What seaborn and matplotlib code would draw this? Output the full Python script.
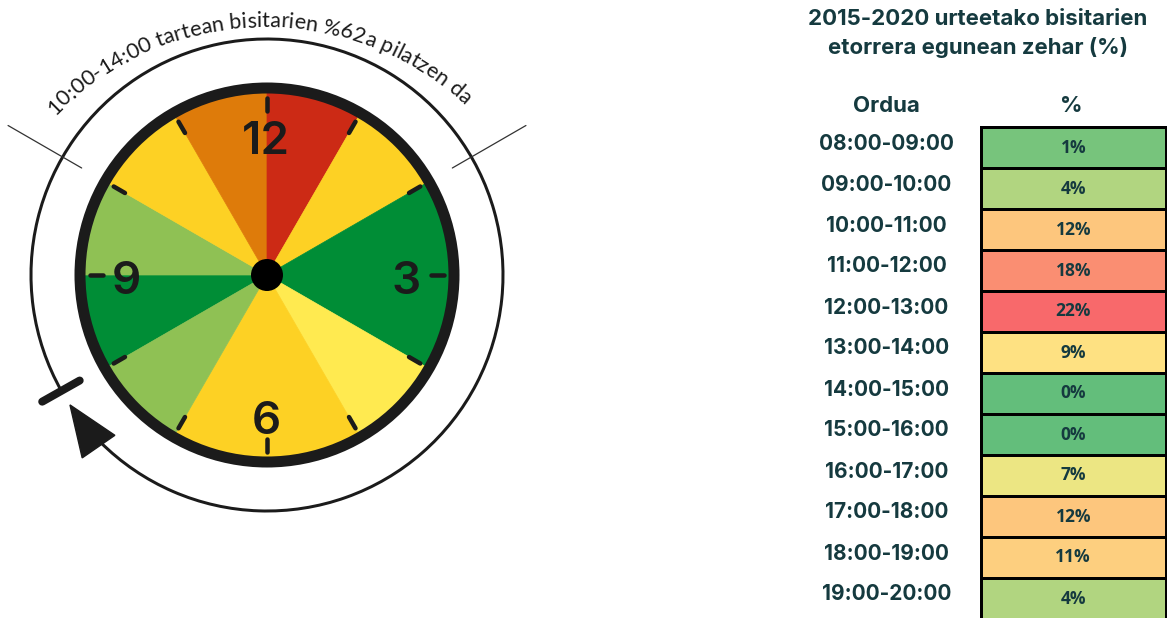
import numpy as np
import pandas as pd
import matplotlib
matplotlib.use('Agg')
import matplotlib.pyplot as plt
import seaborn as sns
from matplotlib.patches import Wedge, Circle, Arc, Polygon
from matplotlib.colors import LinearSegmentedColormap, TwoSlopeNorm
from matplotlib.font_manager import FontProperties, findfont, get_font
from matplotlib.transforms import ScaledTranslation

# --- data -------------------------------------------------------------
hours = ['08:00-09:00', '09:00-10:00', '10:00-11:00', '11:00-12:00',
         '12:00-13:00', '13:00-14:00', '14:00-15:00', '15:00-16:00',
         '16:00-17:00', '17:00-18:00', '18:00-19:00', '19:00-20:00']
start_hour = [8, 9, 10, 11, 12, 13, 14, 15, 16, 17, 18, 19]
visitors_pct = [1, 4, 12, 18, 22, 9, 0, 0, 7, 12, 11, 4]
clock_numbers = [12, 3, 6, 9]
peak_window = [10, 14]

title_lines = ['2015-2020 urteetako bisitarien', 'etorrera egunean zehar (%)']
arc_label = '10:00-14:00 tartean bisitarien %62a pilatzen da'
header_hour = 'Ordua'
header_pct = '%'

# clock face colour classes (upper bin edges in %)
clock_bins = [2, 5, 8, 15, 20]
clock_colors = ['#008D36', '#8FC154', '#FFEA50', '#FDD124', '#DE7B0A', '#CC2A15']

# excel style red-yellow-green scale for the table
table_cmap = LinearSegmentedColormap.from_list('ryg', ['#63BE7B', '#FFEB84', '#F8696B'])

INK = '#1b1b1b'
TEAL = '#153A3F'

sns.set_style('white')
plt.rcParams['font.family'] = ['Inter', 'DejaVu Sans']

W, H = 1167, 618
fig = plt.figure(figsize=(W / 100, H / 100), dpi=100)

# one axes in pixel units for the clock and free texts
ax = fig.add_axes([0, 0, 1, 1])
ax.set_xlim(0, W)
ax.set_ylim(0, H)
ax.axis('off')

cx, cy = 267, H - 275
PX = 0.72  # pixels -> points


def polar(r, deg, c=(cx, cy)):
    t = np.radians(deg)
    return c[0] + r * np.cos(t), c[1] + r * np.sin(t)


def clock_angle(h):
    return 90 - 30 * (h % 12)


# coloured hour wedges
for h, v in zip(start_hour, visitors_pct):
    col = clock_colors[np.digitize(v, clock_bins)]
    t1 = clock_angle(h + 1)
    ax.add_patch(Wedge((cx, cy), 183, t1, t1 + 30, fc=col, ec=col, lw=0.5, zorder=2))

# rim, hour marks, numbers and centre dot
ax.add_patch(Circle((cx, cy), 187, fill=False, ec=INK, lw=11 * PX, zorder=3))
for p in range(12):
    a = clock_angle(p)
    x0, y0 = polar(164, a)
    x1, y1 = polar(177, a)
    ax.plot([x0, x1], [y0, y1], color=INK, lw=4.5 * PX, solid_capstyle='round', zorder=4)
for n in clock_numbers:
    x, y = polar(140, clock_angle(n))
    ax.text(x - 1, y - 19, str(n), ha='center', va='baseline', fontsize=33, color=INK,
            fontweight='semibold', zorder=5)
ax.add_patch(Circle((cx, cy), 16, fc='black', ec='none', zorder=6))

# outer arrow running clockwise
ax.add_patch(Arc((cx, cy), 472, 472, theta1=-135, theta2=209.4, color=INK, lw=3 * PX))
ax.add_patch(Polygon([polar(236, 213.4), polar(221, 226.5), polar(260, 224.7)],
                     closed=True, fc=INK, ec=INK, lw=1))
x0, y0 = polar(215, 209.4)
x1, y1 = polar(258, 209.4)
ax.plot([x0, x1], [y0, y1], color=INK, lw=8 * PX, solid_capstyle='round')

# thin marks for the peak window
for h in peak_window:
    a = clock_angle(h)
    x0, y0 = polar(214, a)
    x1, y1 = polar(299, a)
    ax.plot([x0, x1], [y0, y1], color='#333333', lw=0.9)

# curved label along the top
fp = FontProperties(family='Lato', weight='normal')
font = get_font(findfont(fp))
font.set_size(100, 72)
adv = np.array([font.load_char(ord(c)).linearHoriAdvance / 65536 / 100 for c in arc_label])
tc = (265, H - 319)
tr = 292
a_start, a_end = 136, 47
arc_len = np.radians(a_start - a_end) * tr
fs_px = arc_len / adv.sum()
cum = np.concatenate([[0], np.cumsum(adv)[:-1]])
for ch, s0, w in zip(arc_label, cum, adv):
    s = (s0 + w / 2) * fs_px
    a = a_start - np.degrees(s / tr)
    x, y = polar(tr, a, tc)
    ax.text(x, y, ch, ha='center', va='baseline', rotation=a - 90,
            rotation_mode='anchor', fontproperties=fp, fontsize=fs_px * PX, color=INK)

# --- table ------------------------------------------------------------
for i, line in enumerate(title_lines):
    ax.text(978, H - 25 - 29 * i, line, ha='center', va='baseline', fontsize=16,
            fontweight='bold', color=TEAL)
ax.text(886, H - 112, header_hour, ha='center', va='baseline', fontsize=16,
        fontweight='bold', color=TEAL)
ax.text(1071, H - 112, header_pct, ha='center', va='baseline', fontsize=16,
        fontweight='bold', color=TEAL)

df = pd.DataFrame({'%': visitors_pct}, index=hours)
annot = np.array([[f'{v}%'] for v in visitors_pct])
norm = TwoSlopeNorm(vmin=min(visitors_pct), vcenter=np.median(visitors_pct),
                    vmax=max(visitors_pct))

hax = fig.add_axes([980.5 / W, (H - 619) / H, 185.5 / W, 492 / H])
sns.heatmap(df, ax=hax, cmap=table_cmap, norm=norm, annot=annot, fmt='', cbar=False,
            linewidths=3 * PX, linecolor='black', xticklabels=False, yticklabels=True,
            annot_kws={'color': TEAL, 'fontsize': 12.5, 'fontweight': 'bold',
                       'family': ['Open Sans', 'DejaVu Sans']})
hax.set_ylabel('')
hax.tick_params(axis='y', length=0, pad=94 * PX)
lift = ScaledTranslation(0, 4 / 100, fig.dpi_scale_trans)
for lbl in hax.get_yticklabels():
    lbl.set_ha('center')
    lbl.set_rotation(0)
    lbl.set_fontsize(15)
    lbl.set_fontweight('bold')
    lbl.set_color(TEAL)
    lbl.set_transform(lbl.get_transform() + lift)
for sp in hax.spines.values():
    sp.set_visible(True)
    sp.set_color('black')
    sp.set_linewidth(3 * PX)

fig.savefig('out.png', dpi=100)
